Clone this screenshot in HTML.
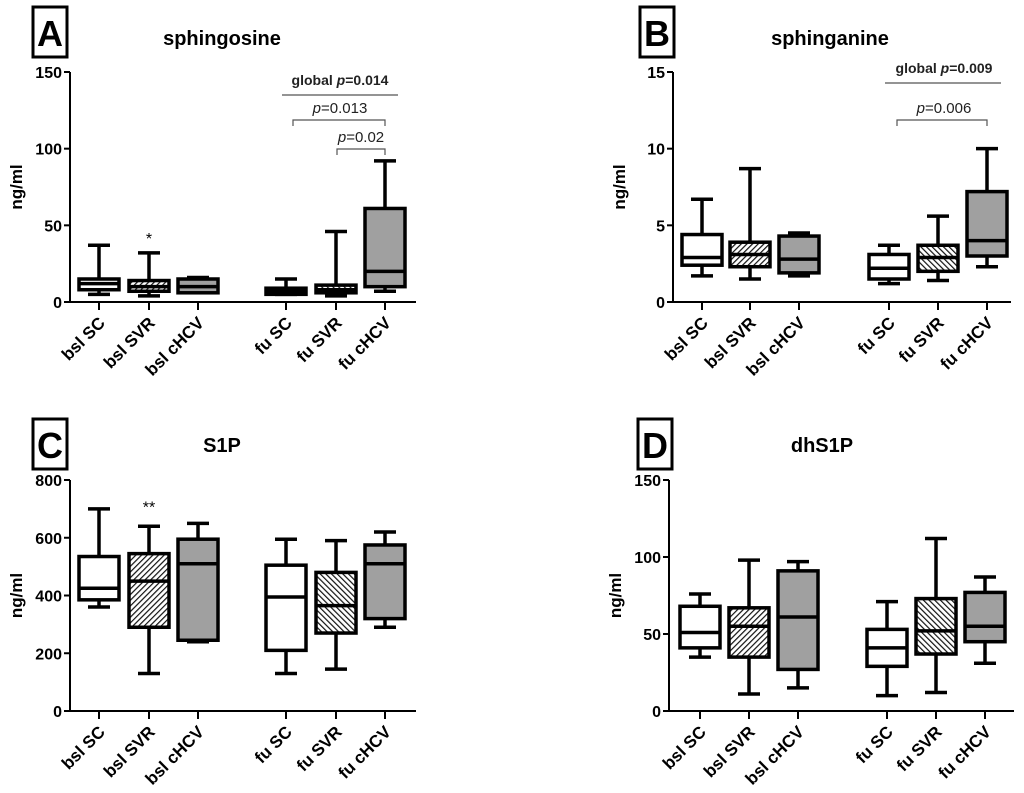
<!DOCTYPE html>
<html><head><meta charset="utf-8"><style>
body{margin:0;background:#fff}
svg{display:block;font-family:"Liberation Sans",Arial,sans-serif}
</style></head><body>
<svg id="fig" width="1024" height="793" viewBox="0 0 1024 793">
<defs>
<pattern id="hatchF" patternUnits="userSpaceOnUse" width="4" height="4" patternTransform="rotate(45)"><rect width="4" height="4" fill="#fff"/><line x1="0" y1="0" x2="0" y2="4" stroke="#111" stroke-width="2.4"/></pattern>
<pattern id="hatchB" patternUnits="userSpaceOnUse" width="4" height="4" patternTransform="rotate(-45)"><rect width="4" height="4" fill="#fff"/><line x1="0" y1="0" x2="0" y2="4" stroke="#111" stroke-width="2.4"/></pattern>
</defs>
</svg>
<script>
const categories=["bsl SC","bsl SVR","bsl cHCV","fu SC","fu SVR","fu cHCV"];
// [min,q1,median,q3,max]
const sphingosine=[[5,8,12,15,37],[4,7,10,14,32],[6,6,10,15,16],[5,5,7,9,15],[4,6,8,11,46],[7,10,20,61,92]];
const sphinganine=[[1.7,2.4,2.9,4.4,6.7],[1.5,2.3,3.1,3.9,8.7],[1.7,1.9,2.8,4.3,4.5],[1.2,1.5,2.2,3.1,3.7],[1.4,2.0,2.9,3.7,5.6],[2.3,3.0,4.0,7.2,10.0]];
const s1p=[[360,385,425,535,700],[130,290,450,545,640],[240,245,510,595,650],[130,210,395,505,595],[145,270,365,480,590],[290,320,510,575,620]];
const dhs1p=[[35,41,51,68,76],[11,35,55,67,98],[15,27,61,91,97],[10,29,41,53,71],[12,37,52,73,112],[31,45,55,77,87]];
const ticksA=[0,50,100,150],ticksB=[0,5,10,15],ticksC=[0,200,400,600,800],ticksD=[0,50,100,150];
const fills=["#fff","url(#hatchF)","#a0a0a0","#fff","url(#hatchB)","#a0a0a0"];
const NS="http://www.w3.org/2000/svg",svg=document.getElementById('fig');
function mk(tag,attrs,parent,text){const e=document.createElementNS(NS,tag);for(const k in attrs)e.setAttribute(k,attrs[k]);if(text!==undefined)e.textContent=text;(parent||svg).appendChild(e);return e;}
const panels=[
 {id:'a',letter:'A',title:'sphingosine',data:sphingosine,ticks:ticksA,ax:70,axEnd:416,y0:302,y1:72,lx:33,ly:7,tx:222,ty:45,cx:[99,149,198,286,336,385],star:{i:1,v:43,t:'*'}},
 {id:'b',letter:'B',title:'sphinganine',data:sphinganine,ticks:ticksB,ax:673,axEnd:1011,y0:302,y1:72,lx:640,ly:7,tx:830,ty:45,cx:[702,750,799,889,938,987]},
 {id:'c',letter:'C',title:'S1P',data:s1p,ticks:ticksC,ax:70,axEnd:416,y0:711,y1:480,lx:33,ly:419,tx:222,ty:452,cx:[99,149,198,286,336,385],star:{i:1,v:715,t:'**'}},
 {id:'d',letter:'D',title:'dhS1P',data:dhs1p,ticks:ticksD,ax:669,axEnd:1014,y0:711,y1:480,lx:638,ly:419,tx:822,ty:452,cx:[700,749,798,887,936,985]}
];
panels.forEach(p=>{
 const g=mk('g',{});
 
 
 const max=p.ticks[p.ticks.length-1];
 const y=v=>p.y0-(v/max)*(p.y0-p.y1);
 const lb=mk('rect',{x:p.lx,y:p.ly,width:34,height:50,fill:'none',stroke:'#000','stroke-width':3},g);
 
 
 const lt=mk('text',{x:p.lx+17,y:p.ly+39,'text-anchor':'middle','font-size':36,'font-weight':'bold'},g,p.letter);
 
 
 const tt=mk('text',{x:p.tx,y:p.ty,'text-anchor':'middle','font-size':20,'font-weight':'bold'},g,p.title);
 
 
 const ya=mk('line',{x1:p.ax,y1:p.y1,x2:p.ax,y2:p.y0,stroke:'#000','stroke-width':2},g);
 
 
 const xa=mk('line',{x1:p.ax-6,y1:p.y0,x2:p.axEnd,y2:p.y0,stroke:'#000','stroke-width':2},g);
 
 
 p.ticks.forEach(t=>{
  mk('line',{x1:p.ax-6,y1:y(t),x2:p.ax,y2:y(t),stroke:'#000','stroke-width':2},g);
  const tl=mk('text',{x:p.ax-8,y:y(t)+6,'text-anchor':'end','font-size':16,'font-weight':'bold'},g,String(t));
  
  
 });
 const yl=mk('text',{x:0,y:0,transform:`translate(${p.ax-48},${(p.y0+p.y1)/2}) rotate(-90)`,'text-anchor':'middle','font-size':17,'font-weight':'bold'},g,'ng/ml');
 
 
 p.data.forEach((d,i)=>{
  const cx=p.cx[i],hw=20;
  mk('line',{x1:cx,y1:p.y0,x2:cx,y2:p.y0+8,stroke:'#000','stroke-width':2},g);
  const cl=mk('text',{x:0,y:0,transform:`translate(${cx+7},${p.y0+22}) rotate(-45)`,'text-anchor':'end','font-size':17,'font-weight':'bold'},g,categories[i]);
  
  
  const bg=mk('g',{},g);
  
  
  const sw=3.5;
  mk('line',{x1:cx,y1:y(d[0]),x2:cx,y2:y(d[4]),stroke:'#000','stroke-width':sw},bg);
  mk('line',{x1:cx-11,y1:y(d[0]),x2:cx+11,y2:y(d[0]),stroke:'#000','stroke-width':sw},bg);
  mk('line',{x1:cx-11,y1:y(d[4]),x2:cx+11,y2:y(d[4]),stroke:'#000','stroke-width':sw},bg);
  mk('rect',{x:cx-hw,y:y(d[3]),width:2*hw,height:Math.max(y(d[1])-y(d[3]),1),fill:fills[i],stroke:'#000','stroke-width':sw},bg);
  mk('line',{x1:cx-hw,y1:y(d[2]),x2:cx+hw,y2:y(d[2]),stroke:'#000','stroke-width':sw},bg);
 });
 if(p.star){const s=mk('text',{x:p.cx[p.star.i],y:y(p.star.v)+8,'text-anchor':'middle','font-size':16},g,p.star.t);
  
  }
});
function ann(x1,x2,yy,txt,bold,tyy,cx,bracket,nm){
 const g=mk('g',{});
 
 
 if(bracket) mk('path',{d:`M${x1},${yy+6}V${yy}H${x2}V${yy+6}`,fill:'none',stroke:'#555','stroke-width':1.2},g);
 else mk('line',{x1:x1,y1:yy,x2:x2,y2:yy,stroke:'#555','stroke-width':1.2},g);
 const t=mk('text',{x:cx,y:tyy,'text-anchor':'middle','font-size':bold?14:15,'font-weight':bold?'bold':'normal',fill:'#222'},g);
 if(bold){mk('tspan',{},t,'global ');}
 mk('tspan',{'font-style':'italic'},t,'p');
 mk('tspan',{},t,txt);
}
ann(282,398,95,'=0.014',true,85,340,false,'global-p-annotation-a');
ann(293,385,120,'=0.013',false,113,340,true,'p-bracket-fusc-fuchcv');
ann(337,385,149,'=0.02',false,142,361,true,'p-bracket-fusvr-fuchcv');
ann(885,1001,83,'=0.009',true,73,944,false,'global-p-annotation-b');
ann(897,987,120,'=0.006',false,113,944,true,'p-bracket-b');
</script>
</body></html>
